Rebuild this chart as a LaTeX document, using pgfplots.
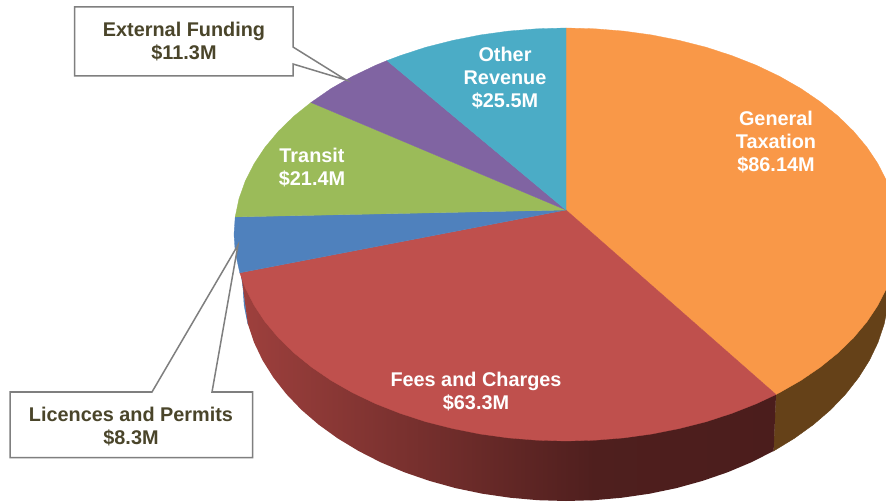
\documentclass[border=0pt]{standalone}
\usepackage{fontspec}
\setmainfont{Liberation Sans}
\usepackage{pgfplots}
\pgfplotsset{compat=1.18}

\definecolor{orangetop}{HTML}{F99848}
\definecolor{orangeside}{HTML}{654118}
\definecolor{redtop}{HTML}{BF504D}
\definecolor{redsideL}{HTML}{9E403D}
\definecolor{redsideM}{HTML}{7A3130}
\definecolor{redsideN}{HTML}{4F1F1E}
\definecolor{redsideR}{HTML}{4B1D1C}
\definecolor{bluetop}{HTML}{4F81BD}
\definecolor{greentop}{HTML}{9BBB59}
\definecolor{purpletop}{HTML}{8064A2}
\definecolor{tealtop}{HTML}{4BACC6}
\definecolor{calloutline}{HTML}{7F7F7F}
\definecolor{callouttext}{HTML}{4A452A}

\tikzset{lbl/.style={font=\fontsize{19.85}{23}\selectfont\bfseries, align=center, inner sep=0pt}}

\begin{document}
\begin{tikzpicture}
\begin{axis}[
    scale only axis,
    width=886pt, height=502pt,
    xmin=0, xmax=886,
    ymin=0, ymax=502,
    y dir=reverse,
    hide axis,
  ]
  % white page, keeps the picture at the full size
  \addplot[draw=none, fill=white] coordinates {(0,0) (886,0) (886,502) (0,502)} -- cycle;

  % sides of the pie first, the top faces go over them
  \addplot[draw=orangeside, fill=orangeside] coordinates {
    (889,287) (887.8,305.7) (884.1,324.2) (878,342.4) (869.5,360.2) (858.7,377.4)
    (845.7,394) (830.6,409.8) (813.4,424.6) (794.4,438.3) (773.6,451)
    (776,394.5) (700,250)
  } -- cycle;
  \addplot[draw=bluetop, fill=bluetop] coordinates {
    (236,240) (243,287) (244.2,305.7) (247.9,324.2) (241,273)
  } -- cycle;
  \addplot[draw=none, left color=redsideN, right color=redsideR] coordinates {
    (773.6,451) (751.3,462.3) (727.5,472.3) (702.5,480.9) (676.5,488.1) (649.6,493.7)
    (622.1,497.7) (594.2,500.2) (590,500) (590,420) (776,394.5)
  } -- cycle;
  \addplot[draw=none, left color=redsideL, middle color=redsideM, right color=redsideN] coordinates {
    (594.2,500.2) (566,501) (537.8,500.2) (509.9,497.7) (482.4,493.7)
    (455.5,488.1) (429.5,480.9) (404.5,472.3) (380.7,462.3) (358.4,450.9) (337.6,438.3)
    (318.6,424.6) (301.4,409.8) (286.3,394) (273.3,377.4) (262.5,360.2) (254,342.4)
    (247.9,324.2) (241,273) (594.2,420)
  } -- cycle;

  % top faces
  \addplot[draw=orangetop, line width=0.3pt, fill=orangetop] coordinates {
    (566,210) (566,28) (595,28.8) (623.6,31.1) (651.9,35) (679.5,40.5) (706.3,47.3)
    (732,55.7) (756.4,65.3) (779.4,76.3) (800.8,88.5) (820.3,101.8) (838,116.1)
    (853.5,131.2) (866.9,147.2) (878,163.9) (886.7,181.1) (893,198.7) (896.7,216.5)
    (898,234.5) (896.7,252.5) (893,270.3) (886.7,287.9) (878,305.1) (866.9,321.8)
    (853.5,337.8) (838,352.9) (820.3,367.2) (800.8,380.5) (779.4,392.7) (776,394.5)
  } -- cycle;
  \addplot[draw=redtop, line width=0.3pt, fill=redtop] coordinates {
    (566,210) (776,394.5) (756.4,403.7) (732,413.3) (706.3,421.7) (679.5,428.5)
    (651.9,434) (623.6,437.9) (595,440.2) (566,441) (537,440.2) (508.4,437.9)
    (480.1,434) (452.5,428.5) (425.7,421.7) (400,413.3) (375.6,403.7) (352.6,392.7)
    (331.2,380.5) (311.7,367.2) (294,352.9) (278.5,337.8) (265.1,321.8) (254,305.1)
    (245.3,287.9) (239.8,272.8)
  } -- cycle;
  \addplot[draw=bluetop, line width=0.3pt, fill=bluetop] coordinates {
    (566,210) (239.8,272.8) (235.3,252.5) (234,234.5) (235.2,216.9)
  } -- cycle;
  \addplot[draw=greentop, line width=0.3pt, fill=greentop] coordinates {
    (566,210) (235.2,216.9) (239,198.7) (245.3,181.1) (254,163.9) (265.1,147.2)
    (278.5,131.2) (294,116.1) (311,102.5)
  } -- cycle;
  \addplot[draw=purpletop, line width=0.3pt, fill=purpletop] coordinates {
    (566,210) (311,102.5) (331.2,88.5) (352.6,76.3) (375.6,65.3) (387,60.6)
  } -- cycle;
  \addplot[draw=tealtop, line width=0.3pt, fill=tealtop] coordinates {
    (566,210) (387,60.6) (400,55.7) (425.7,47.3) (452.5,40.5) (480.1,35)
    (508.4,31.1) (537,28.8) (566,28)
  } -- cycle;

  % callouts
  \addplot[draw=calloutline, line width=1.5pt, fill=white] coordinates {
    (74.5,7) (293,7) (293,47) (346,80) (293,64) (293,76) (74.5,76)
  } -- cycle;
  \addplot[draw=calloutline, line width=1.5pt, fill=white] coordinates {
    (10,392) (152,392) (238,245) (212,392) (252.5,392) (252.5,457.5) (10,457.5)
  } -- cycle;

  \node[lbl, text=callouttext] at (axis cs:184,42) {External Funding\\\$11.3M};
  \node[lbl, text=callouttext] at (axis cs:131,427) {Licences and Permits\\\$8.3M};
  \node[lbl, text=white] at (axis cs:776,142.5) {General\\Taxation\\\$86.14M};
  \node[lbl, text=white] at (axis cs:505,78) {Other\\Revenue\\\$25.5M};
  \node[lbl, text=white] at (axis cs:312,168) {Transit\\\$21.4M};
  \node[lbl, text=white] at (axis cs:476,392) {Fees and Charges\\\$63.3M};
\end{axis}
\end{tikzpicture}
\end{document}
